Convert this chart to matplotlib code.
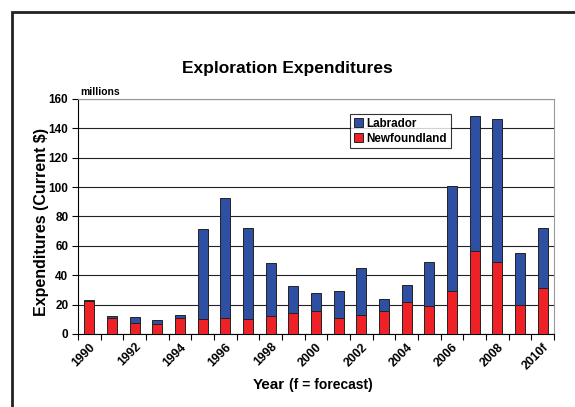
import matplotlib.pyplot as plt
import matplotlib.patches as patches
import numpy as np

plt.rcParams['font.family'] = ['Liberation Sans', 'DejaVu Sans']

years = ['1990', '1991', '1992', '1993', '1994', '1995', '1996', '1997', '1998', '1999',
         '2000', '2001', '2002', '2003', '2004', '2005', '2006', '2007', '2008', '2009', '2010f']
newfoundland = [22.5, 11, 7.5, 7, 11, 10.5, 11, 10.5, 12, 14.5,
                15.5, 11, 13, 15.5, 21.5, 19, 29, 56.5, 49, 20, 31]
totals = [23.3, 12.4, 11.3, 9.5, 12.9, 71.3, 92.8, 71.9, 48.2, 32.6,
          27.6, 29, 44.6, 23.5, 33.5, 48.9, 100.9, 148.2, 146.6, 55.4, 72.4]
labrador = [t - n for t, n in zip(totals, newfoundland)]

blue = '#2E4FA2'
red = '#EE2226'

fig = plt.figure(figsize=(5.75, 4.07), dpi=100)
ax = fig.add_axes([0.1357, 0.1794, 0.8278, 0.5774])

x = np.arange(len(years))
ax.bar(x, newfoundland, width=0.43, color=red, edgecolor='#222222', linewidth=0.7,
       label='Newfoundland', zorder=3)
ax.bar(x, labrador, width=0.43, bottom=newfoundland, color=blue, edgecolor='#222222',
       linewidth=0.7, label='Labrador', zorder=3)

ax.set_xlim(-0.5, len(years) - 0.5)
ax.set_ylim(0, 160)
ax.set_yticks(range(0, 161, 20))
ax.yaxis.grid(True, color='#222222', linewidth=0.8, zorder=0)
ax.tick_params(axis='y', direction='out', length=4, labelsize=8.5, pad=3)
for lab in ax.get_yticklabels():
    lab.set_fontweight('bold')

# ticks at category boundaries, labels every other year
ax.set_xticks(np.arange(-0.5, len(years), 1))
ax.set_xticklabels([])
ax.tick_params(axis='x', which='major', direction='out', length=4)
ax.set_xticks(x[::2], minor=True)
ax.set_xticklabels(years[::2], minor=True, rotation=45, ha='right', va='top',
                   rotation_mode='anchor', fontsize=8.8, fontweight='bold')
ax.tick_params(axis='x', which='minor', length=0, pad=5)

ax.spines['top'].set_color('#999999')
ax.spines['right'].set_color('#999999')

fig.text(42 / 575, 1 - 222 / 407, 'Expenditures (Current $)', rotation=90,
         ha='center', va='center', fontsize=11.5, fontweight='bold')

handles, labels = ax.get_legend_handles_labels()
leg = ax.legend(handles[::-1], labels[::-1], loc='upper left', bbox_to_anchor=(0.56, 0.96),
                frameon=True, fancybox=False, edgecolor='black',
                handlelength=0.8, handleheight=0.8, handletextpad=0.3,
                borderpad=0.3, labelspacing=0.25, prop={'weight': 'bold', 'size': 8.4})
leg.get_frame().set_linewidth(0.8)

fig.text(0.5, 1 - 69 / 407, 'Exploration Expenditures', ha='center', va='center',
         fontsize=12.5, fontweight='bold')
fig.text(0.139, 0.762, 'millions', ha='left', va='bottom', fontsize=7.5, fontweight='bold')
fig.text(0.496, 0.054, 'Year', ha='right', va='center', fontsize=11, fontweight='bold')
fig.text(0.502, 0.054, '(f = forecast)', ha='left', va='center', fontsize=10, fontweight='bold')

# frame around the chart area
fig.add_artist(patches.Rectangle((12 / 575, -0.1), 1.2, 1 - 12 / 407 + 0.1,
                                 transform=fig.transFigure, fill=False,
                                 edgecolor='#222222', linewidth=2))

fig.savefig('out.png', dpi=100)
